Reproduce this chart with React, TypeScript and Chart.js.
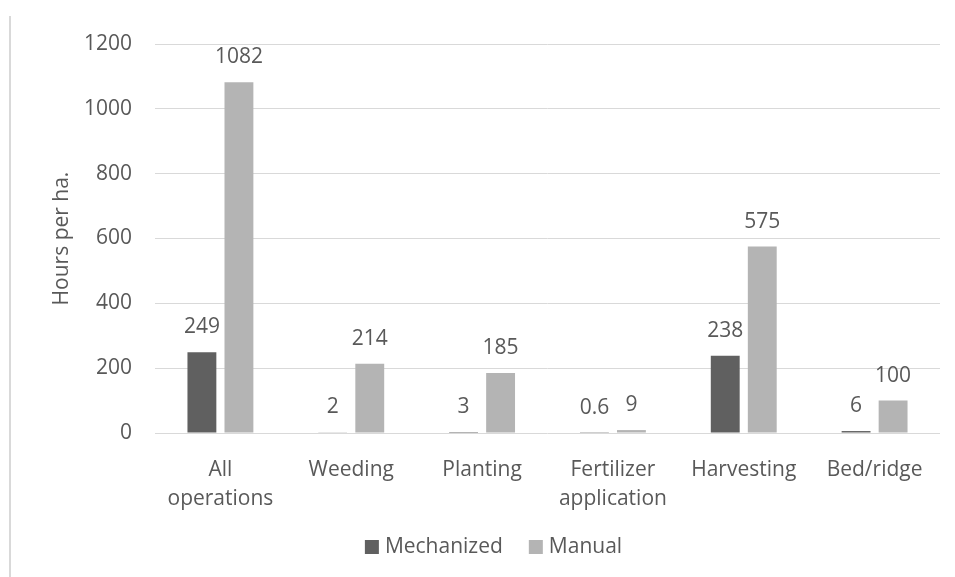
import React, { useEffect, useRef } from "react";
import { Chart, registerables } from "chart.js";

Chart.register(...registerables);

const categories: (string | string[])[] = [
  ["All", "operations"],
  "Weeding",
  "Planting",
  ["Fertilizer", "application"],
  "Harvesting",
  "Bed/ridge",
];
const mechanized = [249, 2, 3, 0.6, 238, 6];
const manual = [1082, 214, 185, 9, 575, 100];
const seriesNames = ["Mechanized", "Manual"];
const yTicks = [0, 200, 400, 600, 800, 1000, 1200];
const yTitle = "Hours per ha.";

const FONT = "'Open Sans', sans-serif";
const FS = 21;
const TEXT = "#595959";
const COLORS = ["#606060", "#b4b4b4"];

const decorPlugin = {
  id: "decor",
  beforeDraw(chart: any) {
    const ctx = chart.ctx;
    ctx.save();
    ctx.fillStyle = "#d9d9d9";
    ctx.fillRect(9, 16, 2, chart.height - 16);
    ctx.restore();
  },
  afterDatasetsDraw(chart: any) {
    const ctx = chart.ctx;
    ctx.save();
    ctx.font = `${FS}px ${FONT}`;
    ctx.fillStyle = TEXT;
    ctx.textAlign = "center";
    ctx.textBaseline = "middle";
    chart.data.datasets.forEach((ds: any, i: number) => {
      const meta = chart.getDatasetMeta(i);
      meta.data.forEach((bar: any, j: number) => {
        ctx.fillText(String(ds.data[j]), bar.x, bar.y - 25);
      });
    });
    // legend
    const box = 14;
    const gapBoxText = 6;
    const gapItems = 26;
    const widths = seriesNames.map((n) => ctx.measureText(n).width);
    const total = widths.reduce((a, w) => a + box + gapBoxText + w, 0) + gapItems * (seriesNames.length - 1);
    let x = 493.5 - total / 2;
    const cy = 547;
    ctx.textAlign = "left";
    seriesNames.forEach((n, i) => {
      ctx.fillStyle = COLORS[i];
      ctx.fillRect(x, cy - box / 2, box, box);
      x += box + gapBoxText;
      ctx.fillStyle = TEXT;
      ctx.fillText(n, x, cy);
      x += widths[i] + gapItems;
    });
    ctx.restore();
  },
};

export default function App() {
  const ref = useRef<HTMLCanvasElement>(null);
  useEffect(() => {
    if (!ref.current) return;
    const chart = new Chart(ref.current, {
      type: "bar",
      data: {
        labels: categories,
        datasets: [
          {
            label: seriesNames[0],
            data: mechanized,
            backgroundColor: COLORS[0],
            categoryPercentage: 0.566,
            barPercentage: 0.78,
          },
          {
            label: seriesNames[1],
            data: manual,
            backgroundColor: COLORS[1],
            categoryPercentage: 0.566,
            barPercentage: 0.78,
          },
        ],
      },
      options: {
        responsive: false,
        animation: false,
        layout: { padding: { left: 0, right: 15, top: 44, bottom: 0 } },
        plugins: { legend: { display: false }, tooltip: { enabled: false } },
        scales: {
          x: {
            grid: { display: false },
            border: { display: false },
            ticks: {
              color: TEXT,
              font: { family: FONT, size: FS, lineHeight: 29 / FS },
              padding: 15,
              maxRotation: 0,
              autoSkip: false,
            },
            afterFit(scale: any) {
              scale.height = 577 - 433;
            },
          },
          y: {
            min: 0,
            max: 1200,
            afterBuildTicks(scale: any) {
              scale.ticks = yTicks.map((v) => ({ value: v }));
            },
            grid: { color: "#d9d9d9", lineWidth: 1, drawTicks: false },
            border: { display: false },
            ticks: {
              color: TEXT,
              font: { family: FONT, size: FS },
              padding: 23,
              callback: (v: any) => String(v),
            },
            title: {
              display: true,
              text: yTitle,
              color: TEXT,
              font: { family: FONT, size: FS },
              padding: { top: 49, bottom: 0 },
            },
            afterFit(scale: any) {
              scale.width = 155;
            },
          },
        },
      },
      plugins: [decorPlugin],
    } as any);
    return () => chart.destroy();
  }, []);
  return (
    <div style={{ position: "absolute", left: 0, top: 0, width: 955, height: 577, background: "#fff" }}>
      <canvas ref={ref} width={955} height={577} style={{ display: "block" }} />
    </div>
  );
}
